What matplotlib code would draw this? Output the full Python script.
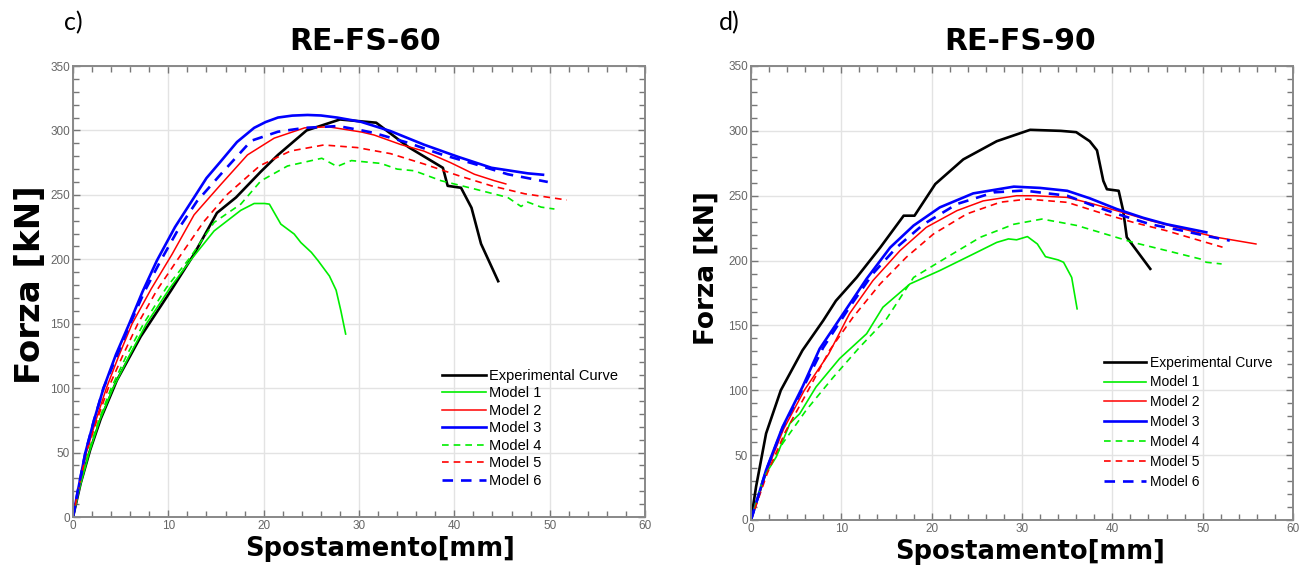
import matplotlib.pyplot as plt
from matplotlib.ticker import MultipleLocator

# ---- RE-FS-60 (panel c) ----
exp60_x = [0, 0.8, 1.8, 2.9, 4.6, 7.1, 10.3, 12.7, 15.1, 17.1, 19.7, 21.5, 24.5, 28.0, 31.8, 35.2, 38.8, 39.3, 40.7, 41.8, 42.8, 44.6]
exp60_y = [0, 26, 52, 76, 106, 140, 176, 204, 236, 248, 268, 281, 300, 308.5, 306, 287, 271, 257, 255.5, 240, 212, 183]
m1_60_x = [0, 0.6, 1.7, 2.8, 4.2, 5.9, 7.7, 10.2, 12.3, 14.8, 17.6, 19.0, 20.1, 20.6, 21.8, 23.2, 23.9, 25.0, 25.7, 26.1, 26.9, 27.6, 28.1, 28.6]
m1_60_y = [0, 20, 50, 75, 100, 125, 150, 178, 199, 222, 238, 243.3, 243.3, 242.8, 227.3, 219.6, 213, 205.4, 199, 195, 187, 176, 160, 142]
m2_60_x = [0, 0.5, 1.4, 2.4, 3.5, 4.8, 6.2, 8.2, 10.4, 12.7, 15.5, 18.3, 21.1, 24.3, 26.8, 30.3, 31.6, 34.4, 36.8, 39.6, 42.1, 44.2, 45.4]
m2_60_y = [0, 19, 50, 75, 100, 125, 150, 177, 204, 234.5, 258, 281, 294, 302, 302.8, 298.7, 296.4, 289, 284, 275, 266, 261, 258.5]
m3_60_x = [0, 0.5, 1.3, 2.2, 3.2, 4.5, 5.9, 7.3, 8.8, 10.7, 12.7, 14.0, 15.5, 17.2, 19.0, 20.2, 21.5, 23.0, 24.6, 26.0, 27.7, 30.2, 33.3, 36.8, 40.4, 43.9, 47.7, 49.3]
m3_60_y = [0, 20, 50, 75, 100, 126, 150, 175, 199, 225, 248, 263, 276, 291, 302, 306.5, 310, 311.5, 312, 311.6, 310, 306.7, 299.5, 289, 279.5, 271, 266.7, 265.6]
m4_60_x = [0, 0.6, 1.6, 2.7, 4.0, 5.6, 7.4, 9.8, 12.3, 14.8, 17.6, 19.7, 22.5, 26.1, 27.7, 29.2, 32.3, 34.0, 35.8, 38.6, 42.1, 45.6, 47.0, 47.7, 49.1, 50.5]
m4_60_y = [0, 20, 50, 75, 100, 125, 150, 178, 201.5, 228.6, 242.8, 260.8, 272.4, 278.4, 272, 276.6, 274.4, 270, 268.7, 261, 254.6, 248, 241, 244.4, 240.5, 239]
m5_60_x = [0, 0.5, 1.4, 2.5, 3.7, 5.2, 6.8, 8.8, 10.9, 13.7, 16.2, 19.6, 22.8, 26.3, 29.8, 33.3, 36.8, 40.4, 43.9, 47.4, 51.8]
m5_60_y = [0, 19, 50, 75, 100, 125, 150, 176, 199, 229, 250.5, 272.6, 284, 288.7, 286.7, 282, 274, 265, 257, 250.8, 246]
m6_60_x = [0, 0.5, 1.3, 2.2, 3.2, 4.6, 6.0, 7.5, 9.2, 11.1, 13.0, 15.5, 18.7, 21.5, 24.3, 27.8, 30.3, 31.6, 35.1, 38.6, 42.1, 45.6, 48.4, 49.8]
m6_60_y = [0, 20, 50, 75, 100, 125, 150, 175, 199, 224, 245, 266, 292, 299, 302, 303.4, 300, 298, 290.5, 281.5, 274, 266, 262, 260]

# ---- RE-FS-90 (panel d) ----
exp90_x = [0, 0.56, 1.67, 3.3, 5.7, 8.0, 9.4, 11.7, 14.3, 16.9, 18.1, 20.4, 23.5, 27.2, 30.9, 34.3, 36.0, 37.5, 38.3, 39.0, 39.4, 40.7, 41.2, 41.6, 44.2]
exp90_y = [0, 25.6, 66.7, 100, 130.8, 153.8, 169, 187, 210, 234.6, 234.6, 259, 278, 292, 300.8, 300, 299, 292, 285, 261.5, 255, 253.8, 238.5, 218, 193.6]
m1_90_x = [0, 1.67, 2.8, 4.3, 5.4, 7.2, 9.8, 12.8, 14.6, 17.6, 20.9, 24.6, 27.2, 28.5, 29.4, 30.6, 31.7, 32.6, 34.0, 34.6, 35.5, 36.1]
m1_90_y = [0, 35.9, 48.7, 74.4, 82, 102.6, 124.4, 143.6, 164, 182, 192.3, 205, 214, 216.7, 216, 218.5, 212.8, 203, 200.5, 198.7, 187, 162.8]
m2_90_x = [0, 1.7, 3.6, 5.9, 8.6, 10.9, 13.5, 16.5, 19.4, 22.8, 25.7, 29.4, 31.3, 35.0, 37.9, 41.2, 44.2, 47.8, 51.5, 55.9]
m2_90_y = [0, 37, 70, 100, 128, 159, 184.6, 207.7, 225.6, 238.5, 246, 250, 250, 248.7, 243.6, 237, 230.8, 224.4, 218, 212.8]
m3_90_x = [0, 1.67, 3.5, 5.7, 7.6, 10.2, 12.8, 15.4, 18.0, 20.9, 24.6, 29.1, 32.0, 35.0, 37.5, 40.5, 43.4, 46.0, 50.4]
m3_90_y = [0, 38.5, 71.8, 102.6, 132, 159, 186, 210, 227, 241, 251.8, 257, 256, 253.8, 248, 239.7, 233, 228, 221.8]
m4_90_x = [0, 1.3, 3.5, 6.1, 9.1, 12.0, 15.0, 18.0, 21.7, 25.4, 29.1, 32.2, 34.2, 36.1, 38.6, 42.3, 46.0, 49.7, 50.4, 52.1]
m4_90_y = [0, 30.8, 59, 84.6, 110, 133, 155, 187, 202.6, 218, 228, 232, 229.5, 227, 221.8, 214, 207.7, 201.3, 198.7, 197.4]
m5_90_x = [0, 1.8, 3.8, 6.1, 8.7, 11.3, 14.3, 17.2, 20.2, 23.9, 27.6, 30.6, 35.0, 38.6, 42.3, 46.0, 49.7, 52.2]
m5_90_y = [0, 36, 68, 97, 130.8, 156.4, 182, 202.6, 220.5, 236, 245, 247.4, 244.9, 237, 229.5, 223, 215.4, 210.3]
m6_90_x = [0, 1.67, 3.5, 5.7, 8.0, 10.9, 13.5, 16.1, 19.1, 22.8, 26.9, 30.2, 35.0, 37.9, 40.5, 44.2, 47.8, 50.4, 53.0]
m6_90_y = [0, 38, 71, 101, 133, 164, 190, 210, 228, 243.6, 252.6, 254, 250, 242.3, 236, 228, 223, 219, 215.4]

labels = ['Experimental Curve', 'Model 1', 'Model 2', 'Model 3', 'Model 4', 'Model 5', 'Model 6']

GREEN = '#00ee00'
styles = [
    dict(color='black', lw=1.9),
    dict(color=GREEN, lw=1.2),
    dict(color='red', lw=1.1),
    dict(color='blue', lw=1.9),
    dict(color=GREEN, lw=1.2, dashes=(4, 3)),
    dict(color='red', lw=1.2, dashes=(4, 3)),
    dict(color='blue', lw=1.9, dashes=(4, 3)),
]

panels = [
    dict(rect=[73/1306, 1-517/575, 572/1306, 451/575], title='RE-FS-60', tag='c)', tag_x=64/1306,
         title_x=365/1306,
         data=[(exp60_x, exp60_y), (m1_60_x, m1_60_y), (m2_60_x, m2_60_y), (m3_60_x, m3_60_y),
               (m4_60_x, m4_60_y), (m5_60_x, m5_60_y), (m6_60_x, m6_60_y)],
         leg_anchor=(0.645, 0.328), leg_fs=10.5, leg_sp=0.235,
         xl=(0.537, -0.042), yl=(-0.046, 0.514), ylfs=24.5),
    dict(rect=[751/1306, 1-520/575, 542/1306, 454/575], title='RE-FS-90', tag='d)', tag_x=719/1306,
         title_x=1020/1306,
         data=[(exp90_x, exp90_y), (m1_90_x, m1_90_y), (m2_90_x, m2_90_y), (m3_90_x, m3_90_y),
               (m4_90_x, m4_90_y), (m5_90_x, m5_90_y), (m6_90_x, m6_90_y)],
         leg_anchor=(0.652, 0.362), leg_fs=10, leg_sp=0.42,
         xl=(0.515, -0.042), yl=(-0.058, 0.555), ylfs=19),
]

fig = plt.figure(figsize=(13.06, 5.75), dpi=100)
bold_font = ['DejaVu Sans']
tick_font = ['Liberation Sans Narrow', 'Liberation Sans', 'DejaVu Sans']

for p in panels:
    ax = fig.add_axes(p['rect'])
    for (x, y), st, lab in zip(p['data'], styles, labels):
        ax.plot(x, y, label=lab, **st)
    ax.set_xlim(0, 60)
    ax.set_ylim(0, 350)
    ax.xaxis.set_major_locator(MultipleLocator(10))
    ax.xaxis.set_minor_locator(MultipleLocator(2))
    ax.yaxis.set_major_locator(MultipleLocator(50))
    ax.yaxis.set_minor_locator(MultipleLocator(10))
    ax.grid(True, which='major', color='#e3e3e3', lw=1.0)
    ax.set_axisbelow(True)
    ax.tick_params(which='both', direction='in', top=True, right=True, color='#777777',
                   labelcolor='#666666', labelsize=8.5, pad=2)
    ax.tick_params(which='major', length=5, width=1)
    ax.tick_params(which='minor', length=4, width=1)
    for lbl in ax.get_xticklabels() + ax.get_yticklabels():
        lbl.set_family(tick_font)
    for s in ax.spines.values():
        s.set_color('#888888')
        s.set_linewidth(1.4)

    ax.set_xlabel('Spostamento[mm]', fontsize=18.5, fontweight='bold', family=bold_font)
    ax.xaxis.set_label_coords(*p['xl'])
    ax.set_ylabel('Forza [kN]', fontsize=p['ylfs'], fontweight='bold', family=bold_font)
    ax.yaxis.set_label_coords(*p['yl'])

    fig.text(p['title_x'], 1-42/575, p['title'], ha='center', va='center', fontsize=21.5,
             fontweight='bold', family=bold_font)
    fig.text(p['tag_x'], 1-23/575, p['tag'], ha='left', va='center', fontsize=18,
             family=['Lato', 'DejaVu Sans'])

    ax.legend(loc='upper left', bbox_to_anchor=p['leg_anchor'], frameon=False,
              prop=dict(family=['Liberation Sans', 'DejaVu Sans'], size=p['leg_fs']),
              handlelength=3.0, handletextpad=0.25, labelspacing=p['leg_sp'],
              borderpad=0, borderaxespad=0)

fig.savefig('out.png', dpi=100)
